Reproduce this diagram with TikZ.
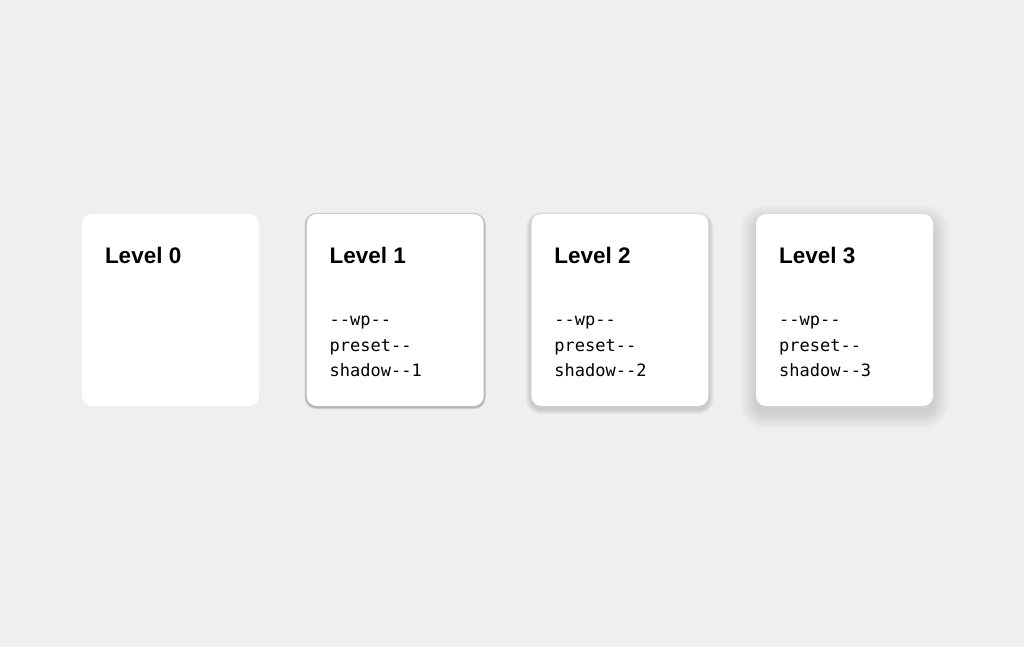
\documentclass[tikz,border=0pt]{standalone}
\usepackage{fontspec}
\setmainfont{Liberation Sans}
\setmonofont{DejaVu Sans Mono}
\usetikzlibrary{positioning,backgrounds}
\definecolor{bggray}{HTML}{EFEFEF}

% soft shadow under a card: node, steps, opacity per step, offset down
\newcommand{\cardshadow}[4]{%
  \foreach \r in {1,...,#2}{%
    \pgfmathsetmacro{\rr}{10+\r}%
    \fill[black,opacity=#3,rounded corners=\rr pt]
      ([xshift=-\r pt,yshift=-\r pt-#4 pt]#1.south west) rectangle
      ([xshift=\r pt,yshift=\r pt-#4 pt]#1.north east);
  }%
}

\begin{document}
\begin{tikzpicture}[x=1pt,y=-1pt,node distance=47.3pt,
    card/.style={rectangle,fill=white,rounded corners=10pt,minimum width=177pt,
      minimum height=192pt,inner sep=0pt},
    title/.style={anchor=base west,inner sep=0pt,font=\fontsize{22.5}{27}\selectfont\bfseries},
    code/.style={anchor=base west,inner sep=0pt,font=\fontsize{17}{20}\selectfont\ttfamily}]
  \node[card] (card0) at (170.5,310) {};
  \node[card] (card1) [right=of card0] {};
  \node[card] (card2) [right=of card1] {};
  \node[card] (card3) [right=of card2] {};

  % titles and class names
  \foreach \n in {0,1,2,3}
    \node[title] (title\n) at ([xshift=23pt,yshift=-50pt]card\n.north west) {Level \n};
  \foreach \n in {1,2,3}{
    \node[code] (wp\n) at ([xshift=23pt,yshift=-112pt]card\n.north west) {-{}-wp-{}-};
    \node[code] (preset\n) at ([xshift=23pt,yshift=-137.5pt]card\n.north west) {preset-{}-};
    \node[code] (shadow\n) at ([xshift=23pt,yshift=-163pt]card\n.north west) {shadow-{}-\n};
  }

  \begin{pgfonlayer}{background}
    \fill[bggray] (0,0) rectangle (1024,647);
    \cardshadow{card1}{2}{0.13}{1}
    \cardshadow{card2}{5}{0.03}{3}
    \cardshadow{card3}{16}{0.0065}{7}
  \end{pgfonlayer}
\end{tikzpicture}
\end{document}
